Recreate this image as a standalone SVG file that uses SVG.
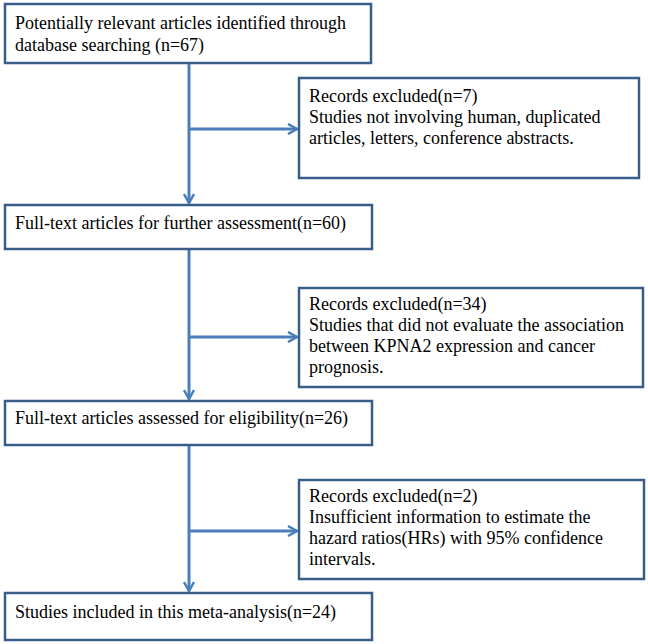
<svg xmlns="http://www.w3.org/2000/svg" width="648" height="644" viewBox="0 0 648 644">
<defs>
<style>
.box{fill:#ffffff;stroke:#385D8A;stroke-width:2.5}
.t{font-family:'Liberation Serif','Times New Roman',Times,'DejaVu Serif',serif;font-size:18px;fill:#000}
.ln{fill:none;stroke:#4A7EBB;stroke-width:3}
</style>
<marker id="ah" viewBox="0 0 12 12" refX="10" refY="6" markerWidth="12" markerHeight="12" markerUnits="userSpaceOnUse" orient="auto">
<path d="M1,1 L10,6 L1,11" fill="none" stroke="#4A7EBB" stroke-width="2.5"/>
</marker>
</defs>
<rect width="648" height="644" fill="#ffffff"/>
<g id="connectors">
<line class="ln" x1="189" y1="64" x2="189" y2="203" marker-end="url(#ah)"/>
<line class="ln" x1="189" y1="129" x2="297" y2="129" marker-end="url(#ah)"/>
<line class="ln" x1="189" y1="249" x2="189" y2="399" marker-end="url(#ah)"/>
<line class="ln" x1="189" y1="337" x2="297" y2="337" marker-end="url(#ah)"/>
<line class="ln" x1="189" y1="445" x2="189" y2="591" marker-end="url(#ah)"/>
<line class="ln" x1="189" y1="531" x2="297" y2="531" marker-end="url(#ah)"/>
</g>
<g id="n1">
<rect class="box" x="5" y="4" width="366" height="59"/>
<text class="t" font-family="Liberation Serif, serif" x="15" y="29">Potentially relevant articles identified through</text>
<text class="t" font-family="Liberation Serif, serif" x="15" y="51">database searching (n=67)</text>
</g>
<g id="n2">
<rect class="box" x="299" y="78" width="340" height="100"/>
<text class="t" x="309" y="102">Records excluded(n=7)</text>
<text class="t" x="309" y="123">Studies not involving human, duplicated</text>
<text class="t" x="309" y="144">articles, letters, conference abstracts.</text>
</g>
<g id="n3">
<rect class="box" x="5" y="205" width="367" height="44"/>
<text class="t" x="15" y="229">Full-text articles for further assessment(n=60)</text>
</g>
<g id="n4">
<rect class="box" x="299" y="288" width="344" height="99"/>
<text class="t" x="309" y="310">Records excluded(n=34)</text>
<text class="t" x="309" y="331">Studies that did not evaluate the association</text>
<text class="t" x="309" y="352">between KPNA2 expression and cancer</text>
<text class="t" x="309" y="373">prognosis.</text>
</g>
<g id="n5">
<rect class="box" x="5" y="401" width="367" height="44"/>
<text class="t" x="15" y="424">Full-text articles assessed for eligibility(n=26)</text>
</g>
<g id="n6">
<rect class="box" x="299" y="480" width="345" height="99"/>
<text class="t" x="309" y="502">Records excluded(n=2)</text>
<text class="t" x="309" y="523">Insufficient information to estimate the</text>
<text class="t" x="309" y="544">hazard ratios(HRs) with 95% confidence</text>
<text class="t" x="309" y="565">intervals.</text>
</g>
<g id="n7">
<rect class="box" x="5" y="593" width="367" height="47"/>
<text class="t" x="15" y="618">Studies included in this meta-analysis(n=24)</text>
</g>
</svg>
